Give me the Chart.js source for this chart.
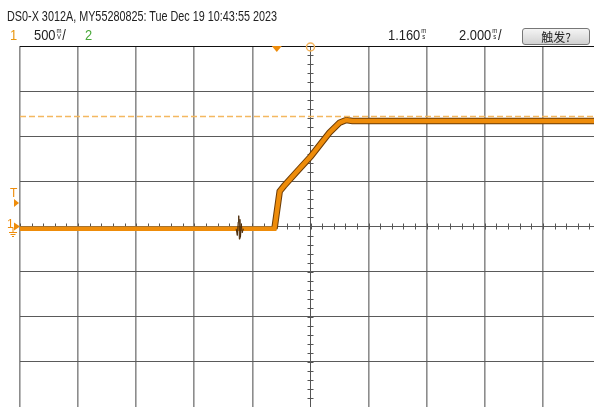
<!DOCTYPE html>
<html>
<head>
<meta charset="utf-8">
<script src="https://cdn.jsdelivr.net/npm/chart.js@4"></script>
<style>
  body { margin: 0; background: #fff; overflow: hidden; }
  #wrap { position: relative; width: 594px; height: 407px; font-family: "Liberation Sans", Arial, sans-serif; color: #222; }
  #scope { position: absolute; left: 0; top: 0; }
  .t { position: absolute; white-space: nowrap; font-size: 14px; line-height: 15px; transform-origin: 0 0; }
  .r2 { font-size: 15px; transform: scaleX(0.86); }
  .u { display: inline-block; font-size: 7px; line-height: 6px; vertical-align: 1px; text-align: center; margin: 0 1px; }
  #btn { position: absolute; left: 522px; top: 28px; width: 66px; height: 15px; border: 1px solid #777; border-radius: 3px;
         background: linear-gradient(#f4f4f4, #d2d2d2); font: 12px "Noto Sans CJK SC", sans-serif; text-align: center; line-height: 15px; }
</style>
</head>
<body>
<div id="wrap">
  <canvas id="scope" width="594" height="407"></canvas>
  <div class="t" id="title" style="left:7px;top:9px;">DS0-X 3012A, MY55280825: Tue Dec 19 10:43:55 2023</div>
  <div class="t r2" style="left:10px;top:27px;color:#e8960f;">1</div>
  <div class="t r2" style="left:34px;top:27px;">500<span class="u">m<br>V</span>/</div>
  <div class="t r2" style="left:85px;top:27px;color:#4aa83a;">2</div>
  <div class="t r2" style="left:388px;top:27px;">1.160<span class="u">m<br>s</span></div>
  <div class="t r2" style="left:459px;top:27px;">2.000<span class="u">m<br>s</span>/</div>
  <div id="btn">触发?</div>
</div>
<script>
// channel 1 trace: time in ms, voltage in V
const traceT = [-8.84, -0.08, 0.1, 0.25, 0.67, 1.18, 1.81, 2.16, 2.39, 2.6, 10.92];
const traceV = [-0.025, -0.025, 0.39, 0.45, 0.6, 0.78, 1.04, 1.15, 1.18, 1.17, 1.17];

// small glitch before the trigger
const glitchT = [-1.4, -1.36, -1.33, -1.31, -1.29, -1.27, -1.25, -1.22, -1.19, -1.15];
const glitchV = [-0.025, -0.1, 0.05, 0.12, -0.14, 0.08, -0.12, 0.03, -0.07, -0.025];

const levelV = 1.22;      // dashed level line
const timePerDiv = 2;     // ms/div
const voltPerDiv = 0.5;   // V/div
const delay = 1.16;       // ms, centre of screen
const xMin = delay - 5 * timePerDiv;
const xMax = xMin + (594 - 20) / 58.1 * timePerDiv;

// narrow scope font: squeeze the header so it spans like the original
const title = document.getElementById("title");
title.style.transform = "scaleX(" + (270 / title.getBoundingClientRect().width) + ")";

function pts(xs, ys) {
  const out = [];
  for (let i = 0; i < xs.length; i++) out.push({ x: xs[i], y: ys[i] });
  return out;
}

const orange = "#ee8c0a";

// draws the centre axis ticks and the scope markers
const scopeMarks = {
  id: "scopeMarks",
  beforeDatasetsDraw(chart) {
    const c = chart.ctx;
    const xs = chart.scales.x, ys = chart.scales.y;
    const cx = xs.getPixelForValue(delay), cy = ys.getPixelForValue(0);
    c.save();
    c.strokeStyle = "#555";
    c.lineWidth = 1;
    c.beginPath();
    for (let v = xMin; v <= xMax; v += timePerDiv / 5) {
      const px = Math.round(xs.getPixelForValue(v)) + 0.5;
      c.moveTo(px, cy - 3); c.lineTo(px, cy + 3);
    }
    for (let v = -4 * voltPerDiv; v <= 4 * voltPerDiv; v += voltPerDiv / 5) {
      const py = Math.round(ys.getPixelForValue(v)) + 0.5;
      c.moveTo(cx - 3, py); c.lineTo(cx + 3, py);
    }
    c.stroke();
    c.restore();
  },
  afterDraw(chart) {
    const c = chart.ctx;
    const xs = chart.scales.x, ys = chart.scales.y;
    const top = chart.chartArea.top;
    c.save();
    // trigger point marker
    const tx = xs.getPixelForValue(0);
    c.fillStyle = orange;
    c.beginPath();
    c.moveTo(tx - 5, top); c.lineTo(tx + 5, top); c.lineTo(tx, top + 6); c.closePath(); c.fill();
    // delay reference
    const dx = xs.getPixelForValue(delay);
    c.strokeStyle = "#f3b35a";
    c.lineWidth = 1.5;
    c.beginPath(); c.arc(dx, top + 1, 4, 0, Math.PI * 2); c.stroke();
    // trigger level "T"
    c.fillStyle = orange;
    c.font = "12px 'Liberation Sans', sans-serif";
    c.fillText("T", 10, 197);
    c.beginPath(); c.moveTo(14, 199); c.lineTo(19, 203); c.lineTo(14, 207); c.closePath(); c.fill();
    // channel 1 ground
    const gy = ys.getPixelForValue(0);
    c.fillText("1", 7, gy + 1);
    c.beginPath(); c.moveTo(14, gy - 4); c.lineTo(20, gy); c.lineTo(14, gy + 4); c.closePath(); c.fill();
    c.strokeStyle = orange;
    c.lineWidth = 1;
    c.beginPath();
    c.moveTo(13, gy + 1); c.lineTo(13, gy + 6);
    c.moveTo(9, gy + 6); c.lineTo(17, gy + 6);
    c.moveTo(10.5, gy + 8); c.lineTo(15.5, gy + 8);
    c.moveTo(12, gy + 10); c.lineTo(14, gy + 10);
    c.stroke();
    c.restore();
  }
};

new Chart(document.getElementById("scope"), {
  type: "line",
  data: {
    datasets: [
      {
        data: pts([xMin, xMax], [levelV, levelV]),
        borderColor: "#f4b860",
        borderWidth: 1.5,
        borderDash: [6, 3],
        pointRadius: 0,
      },
      {
        data: pts(glitchT, glitchV),
        borderColor: "#4a2a08",
        borderWidth: 1,
        pointRadius: 0,
      },
      {
        data: pts(traceT, traceV),
        borderColor: orange,
        borderWidth: 4.5,
        pointRadius: 0,
      },
      {
        // darker edge only where the signal moves and on the top level
        data: pts(traceT.slice(1), traceV.slice(1)),
        borderColor: "#6b3c08",
        borderWidth: 6.5,
        pointRadius: 0,
      },
    ],
  },
  options: {
    responsive: false,
    animation: false,
    layout: { padding: { left: 20, top: 46, right: 0, bottom: 0 } },
    plugins: { legend: { display: false }, tooltip: { enabled: false } },
    scales: {
      x: {
        type: "linear",
        min: xMin,
        max: xMax,
        afterBuildTicks(scale) {
          const t = [];
          for (let i = 0; i <= 10; i++) t.push({ value: xMin + i * timePerDiv });
          scale.ticks = t;
        },
        ticks: { display: false },
        border: { display: false },
        grid: {
          drawTicks: false,
          color: (ctx) => (ctx.index === 5 ? "#555" : "#8c8c8c"),
          lineWidth: (ctx) => (ctx.index === 5 ? 1 : 1.6),
        },
      },
      y: {
        type: "linear",
        min: -4 * voltPerDiv,
        max: 4 * voltPerDiv,
        afterBuildTicks(scale) {
          const t = [];
          for (let i = -4; i <= 4; i++) t.push({ value: i * voltPerDiv });
          scale.ticks = t;
        },
        ticks: { display: false },
        border: { display: false },
        grid: {
          drawTicks: false,
          color: (ctx) => (ctx.index === 8 ? "#111" : "#5a5a5a"),
          lineWidth: 1,
        },
      },
    },
  },
  plugins: [scopeMarks],
});
</script>
</body>
</html>
